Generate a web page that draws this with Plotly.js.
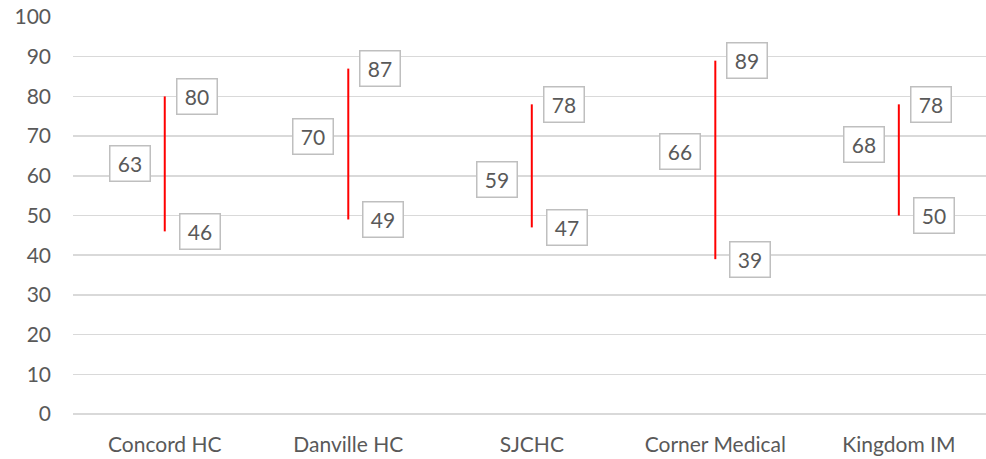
<!DOCTYPE html>
<html><head><meta charset="utf-8">
<script src="https://cdn.plot.ly/plotly-3.0.1.min.js"></script>
<style>html,body{margin:0;padding:0;background:#fff}</style>
</head><body><div id="chart" style="width:986px;height:459px"></div>
<script>
const categories = ["Concord HC", "Danville HC", "SJCHC", "Corner Medical", "Kingdom IM"];
const highValues = [80, 87, 78, 89, 78];
const lowValues = [46, 49, 47, 39, 50];
const midValues = [63, 70, 59, 66, 68];
const yTicks = [0, 10, 20, 30, 40, 50, 60, 70, 80, 90, 100];

const FONT = "Lato, 'Open Sans', sans-serif";
const TXT = "#595959";

const lx = [], ly = [];
categories.forEach((c, i) => { lx.push(c, c, null); ly.push(lowValues[i], highValues[i], null); });

const trace = {
  type: "scatter", mode: "lines", x: lx, y: ly,
  line: {color: "#FF0000", width: 2}, hoverinfo: "skip", connectgaps: false
};

function box(x, y, shift) {
  return {
    x: x, y: y, xref: "x", yref: "y", text: String(y), showarrow: false,
    xshift: shift, font: {family: FONT, size: 21, color: TXT},
    bordercolor: "#BFBFBF", borderwidth: 1.5, bgcolor: "#FFFFFF",
    borderpad: 5, width: 29, height: 24, align: "center", valign: "middle"
  };
}
const annotations = [];
categories.forEach((c, i) => {
  annotations.push(box(c, highValues[i], 32));
  annotations.push(box(c, lowValues[i], 35));
  annotations.push(box(c, midValues[i], -35));
});

const layout = {
  width: 986, height: 459,
  margin: {l: 73, r: 0, t: 17, b: 45},
  paper_bgcolor: "#fff", plot_bgcolor: "#fff",
  showlegend: false,
  font: {family: FONT, color: TXT, size: 20},
  xaxis: {
    type: "category", categoryarray: categories, range: [-0.5, 4.475],
    showgrid: false, zeroline: false, showline: false, ticks: "",
    tickfont: {family: FONT, size: 21, color: TXT}, ticklabelstandoff: 16
  },
  yaxis: {
    range: [0, 100], tickvals: yTicks, ticktext: yTicks.map(String),
    showgrid: true, gridcolor: "#D9D9D9", gridwidth: 1.5,
    zeroline: true, zerolinecolor: "#D9D9D9", zerolinewidth: 1.5,
    showline: false, ticks: "", ticklabelstandoff: 21,
    tickfont: {family: FONT, size: 21, color: TXT}
  },
  annotations: annotations
};
Plotly.newPlot("chart", [trace], layout, {displayModeBar: false, staticPlot: true});
</script></body></html>
